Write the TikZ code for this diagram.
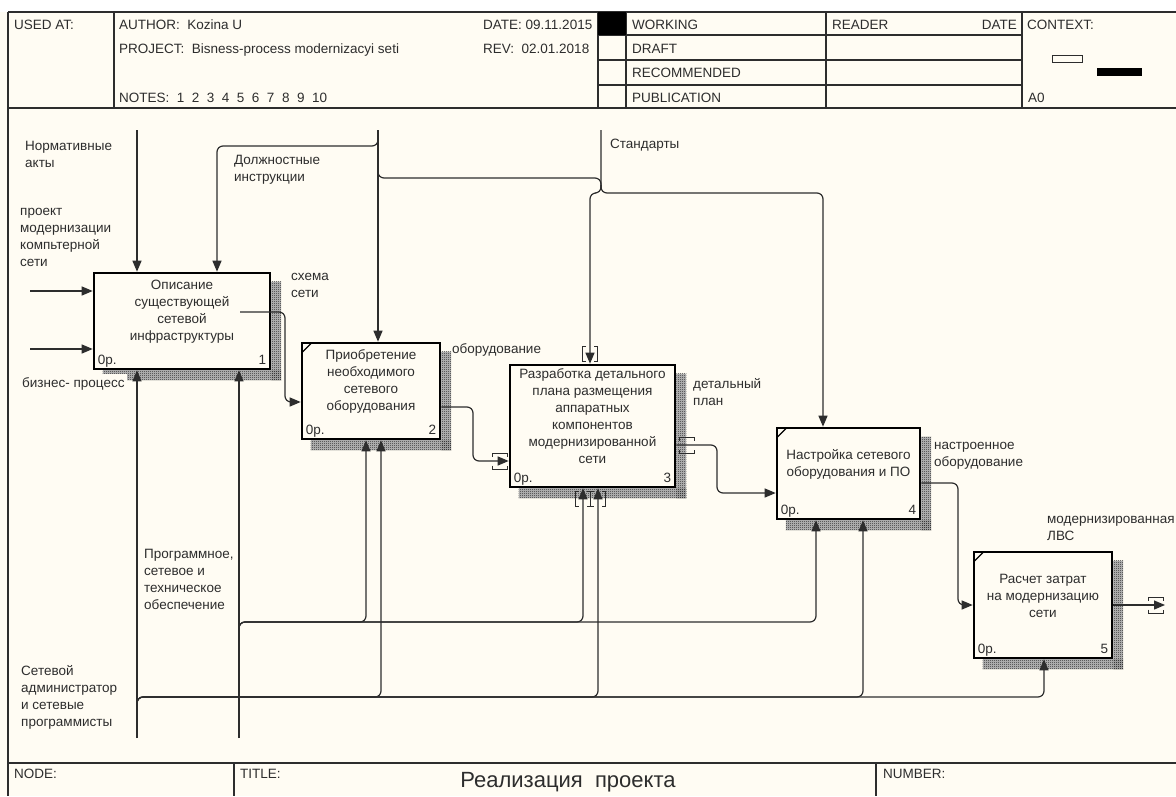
\documentclass[tikz,border=0pt]{standalone}
\usepackage{fontspec}
\setmainfont{Liberation Sans}
\usetikzlibrary{arrows.meta,patterns}
\definecolor{paper}{RGB}{255,252,243}
\definecolor{ink}{RGB}{45,45,45}

\pgfdeclarepatternformonly{checker}{\pgfpointorigin}{\pgfpoint{2pt}{2pt}}{\pgfpoint{2pt}{2pt}}{%
  \pgfpathrectangle{\pgfpointorigin}{\pgfpoint{1pt}{1pt}}%
  \pgfpathrectangle{\pgfpoint{1pt}{1pt}}{\pgfpoint{1pt}{1pt}}%
  \pgfusepath{fill}}

% brackets of a tunnelled arrow end: vertical arrow, horizontal arrow
\newcommand{\tunv}[2]{\draw[tun] (#1-4,#2) -- (#1-7.5,#2) -- (#1-7.5,#2+15) -- (#1-4,#2+15);
  \draw[tun] (#1+4,#2) -- (#1+7.5,#2) -- (#1+7.5,#2+15) -- (#1+4,#2+15);}
\newcommand{\tunh}[2]{\draw[tun] (#1,#2-4.5) -- (#1,#2-8) -- (#1+15,#2-8) -- (#1+15,#2-4.5);
  \draw[tun] (#1,#2+4.5) -- (#1,#2+8) -- (#1+15,#2+8) -- (#1+15,#2+4.5);}

\begin{document}
\begin{tikzpicture}[x=1pt,y=-1pt,>={Triangle[length=11pt,width=9pt]},
  txt/.style={font=\fontsize{13.5}{17}\selectfont,text=ink,inner sep=0pt},
  lbl/.style={txt,align=left,anchor=base west},
  hdr/.style={txt,anchor=base west},
  gridline/.style={line width=1.3pt,draw=ink},
  func/.style={rectangle,draw=black,line width=2.6pt,fill=paper,inner sep=0pt},
  ftext/.style={txt,align=center},
  shadowback/.style={fill=black!25},
  shadowfill/.style={pattern=checker,pattern color=black!85},
  conn/.style={line width=1.2pt,draw=ink,rounded corners=6pt},
  tun/.style={line width=1pt,draw=ink}]

\fill[white] (0,0) rectangle (1176,12);
\fill[paper] (0,12) rectangle (1176,796);
\useasboundingbox (0,0) rectangle (1176,796);

% header
\draw[gridline] (8,12) -- (1176,12);
\draw[gridline] (8,108) -- (1176,108);
\draw[gridline] (8,12) -- (8,796);
\foreach \x in {114,598,626,826,1022} \draw[gridline] (\x,12) -- (\x,108);
\foreach \y in {35,60,85} \draw[gridline] (598,\y) -- (1022,\y);
\fill[black] (598,12) rectangle (626,35);
\draw[line width=1pt,draw=ink] (1052,55) rectangle (1082,62);
\fill[black] (1097,68) rectangle (1142,76);

\node[hdr] (usedat)  at (14,29)  {USED AT:};
\node[hdr] (author)  at (119,29) {AUTHOR:~~Kozina U};
\node[hdr] (project) at (119,53) {PROJECT:~~Bisness-process modernizacyi seti};
\node[hdr] (notes)   at (119,102) {NOTES:~~1~~2~~3~~4~~5~~6~~7~~8~~9~~10};
\node[hdr] (date)    at (483,29) {DATE: 09.11.2015};
\node[hdr] (rev)     at (483,53) {REV:~~02.01.2018};
\node[hdr] (working) at (632,29) {WORKING};
\node[hdr] (draft)   at (632,53) {DRAFT};
\node[hdr] (recom)   at (632,77) {RECOMMENDED};
\node[hdr] (publ)    at (632,102) {PUBLICATION};
\node[hdr] (reader)  at (832,29) {READER};
\node[hdr,anchor=base east] (rdate) at (1017,29) {DATE};
\node[hdr] (context) at (1027,29) {CONTEXT:};
\node[hdr] (ctxnode) at (1028,102) {A0};

% footer
\draw[gridline] (8,763) -- (1176,763);
\draw[gridline] (234,763) -- (234,796);
\draw[gridline] (876,763) -- (876,796);
\node[hdr] (nodelbl)  at (14,778)  {NODE:};
\node[hdr] (titlelbl) at (240,778) {TITLE:};
\node[hdr] (numlbl)   at (883,778) {NUMBER:};
\node[txt,font=\fontsize{22}{26}\selectfont,anchor=base] (title) at (568,787) {Реализация~~проекта};

% activity boxes
\node[func,minimum width=176pt,minimum height=96pt]  (b1) at (182,321)   {};
\node[func,minimum width=138pt,minimum height=96pt]  (b2) at (371,391)   {};
\node[func,minimum width=165pt,minimum height=122pt] (b3) at (592.5,426) {};
\node[func,minimum width=143pt,minimum height=91pt]  (b4) at (848.5,473.5) {};
\node[func,minimum width=138pt,minimum height=106pt] (b5) at (1043,605)  {};

\foreach \b in {b1,b2,b3,b4,b5} {
  \foreach \s in {shadowback,shadowfill} {
    \fill[\s] ([yshift=-10pt]\b.north east) rectangle ([xshift=10pt,yshift=-10pt]\b.south east);
    \fill[\s] ([xshift=10pt]\b.south west) rectangle ([xshift=10pt,yshift=-10pt]\b.south east);
  }
}
\foreach \b in {b2,b4,b5}
  \draw[line width=1.2pt] ([xshift=1pt,yshift=-11pt]\b.north west) -- ([xshift=11pt,yshift=-1pt]\b.north west);

\node[ftext] (t1) at ([yshift=9.5pt]b1.center) {Описание\\существующей\\сетевой\\инфраструктуры};
\node[ftext] (t2) at ([yshift=9.5pt]b2.center) {Приобретение\\необходимого\\сетевого\\оборудования};
\node[ftext] (t3) at ([yshift=9.5pt]b3.center) {Разработка детального\\плана размещения\\аппаратных\\компонентов\\модернизированной\\сети};
\node[ftext] (t4) at ([yshift=9.5pt]b4.center) {Настройка сетевого\\оборудования и ПО};
\node[ftext] (t5) at ([yshift=9.5pt]b5.center) {Расчет затрат\\на модернизацию\\сети};

\foreach \b/\n in {b1/1,b2/2,b3/3,b4/4,b5/5} {
  \node[hdr] (cost\n) at ([xshift=5pt,yshift=6pt]\b.south west) {0р.};
  \node[hdr,anchor=base east] (num\n) at ([xshift=-5pt,yshift=6pt]\b.south east) {\n};
}

% controls
\coordinate (ctlA) at (137,130);
\coordinate (ctlB) at (378,130);
\coordinate (ctlC) at (601,130);
\draw[conn,->] (ctlA) -- (ctlA |- b1.north);
\draw[conn,->] (ctlB) -- (ctlB |- b2.north);
\draw[conn,->] (378,139) -- (378,146) -| ([xshift=35pt]b1.north);
\draw[conn] (378,171) -- (378,178) -- (601,178) -- (601,188);
\draw[conn,->] (ctlC) -- (601,193) -| ([xshift=-25.5pt]b4.north);
\draw[conn,->] (601,185) -- (601,193) -| ([xshift=-2.5pt]b3.north);

% inputs and outputs
\coordinate (inA) at (30,291);
\coordinate (inB) at (30,349);
\coordinate (outE) at (1165,605);
\draw[conn,->] (inA) -- (inA -| b1.west);
\draw[conn,->] (inB) -- (inB -| b1.west);
\draw[conn,->] ([xshift=58pt,yshift=9pt]b1.center) -- (285,312) |- ([yshift=-11pt]b2.west);
\draw[conn,->] ([yshift=-16pt]b2.east) -- (473,407) |- ([yshift=-35pt]b3.west);
\draw[conn,->] ([yshift=-19pt]b3.east) -- (717,445) |- ([yshift=-19.5pt]b4.west);
\draw[conn,->] ([yshift=-9.5pt]b4.east) -- (958,483) |- (b5.west);
\draw[conn,->] (b5.east) -- (outE);

% mechanisms
\coordinate (mechA) at (137,738);
\coordinate (mechB) at (239,738);
\draw[conn,->] (mechA) -- (mechA |- b1.south);
\draw[conn,->] (mechB) -- (mechB |- b1.south);
\foreach \b/\dx in {b2/-5,b3/-9.5,b4/-32.5}
  \draw[conn,->] (239,630) -- (239,622) -| ([xshift=\dx pt]\b.south);
\foreach \b/\dx in {b2/10,b3/5.5,b4/14.5,b5/1}
  \draw[conn,->] (137,705) -- (137,697) -| ([xshift=\dx pt]\b.south);

\tunv{590}{346}
\tunv{583}{491}
\tunv{598}{491}
\tunh{492}{461}
\tunh{679}{445}
\tunh{1148}{605}

% arrow labels (base = last line)
\node[lbl] (lnorm)  at (25,167)  {Нормативные\\акты};
\node[lbl] (ldolzh) at (234,181) {Должностные\\инструкции};
\node[lbl] (lstand) at (610,148) {Стандарты};
\node[lbl] (lproj)  at (20,266)  {проект\\модернизации\\компьтерной\\сети};
\node[lbl,fill=paper,inner ysep=3pt,inner xsep=2pt] (lbiz) at (20,387) {бизнес- процесс};
\node[lbl] (lschem) at (291,297) {схема\\сети};
\node[lbl] (lequip) at (452,353) {оборудование};
\node[lbl] (lplan)  at (693,405) {детальный\\план};
\node[lbl] (ltuned) at (934,466) {настроенное\\оборудование};
\node[lbl] (llan)   at (1047,540) {модернизированная\\ЛВС};
\node[lbl] (lsoft)  at (144,609) {Программное,\\сетевое и\\техническое\\обеспечение};
\node[lbl] (ladmin) at (21,726)  {Сетевой\\администратор\\и сетевые\\программисты};

\end{tikzpicture}
\end{document}
